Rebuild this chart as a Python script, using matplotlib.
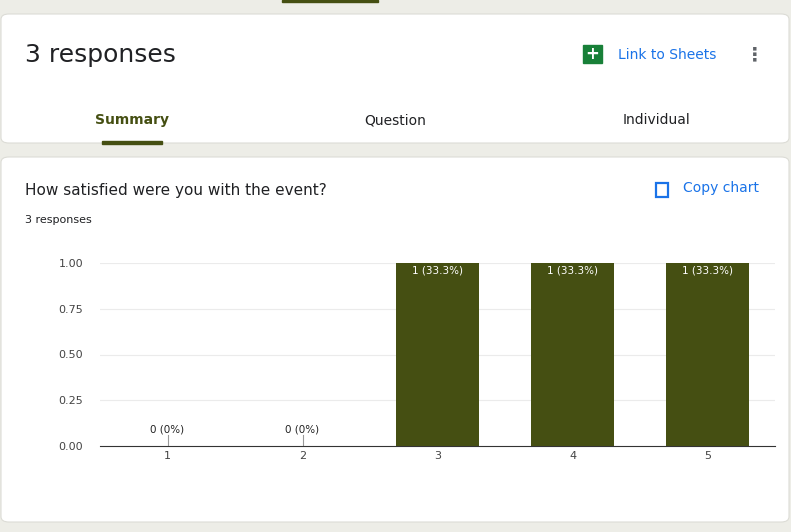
import matplotlib
matplotlib.use('Agg')
import matplotlib.pyplot as plt
from matplotlib.patches import FancyBboxPatch, Rectangle

categories = ['1', '2', '3', '4', '5']
counts = [0, 0, 1, 1, 1]
labels = ['0 (0%)', '0 (0%)', '1 (33.3%)', '1 (33.3%)', '1 (33.3%)']
yticks = [0.0, 0.25, 0.5, 0.75, 1.0]

W, H = 791, 532
GREEN = '#454f12'
BG = '#edede7'


def fx(x):
    return x / W


def fy(y):
    return 1 - y / H


fig = plt.figure(figsize=(W / 100, H / 100), dpi=100)
fig.patch.set_facecolor(BG)


def card(x0, y0, x1, y1):
    fig.patches.append(FancyBboxPatch((fx(x0), fy(y1)), fx(x1 - x0), (y1 - y0) / H,
                                      boxstyle='round,pad=0,rounding_size=0.01',
                                      transform=fig.transFigure, facecolor='white',
                                      edgecolor='#dcdcd6', linewidth=0.8))


card(1, 14, 789, 143)
card(1, 157, 789, 522)

# top accent and tab indicator
fig.patches.append(Rectangle((fx(282), fy(2)), fx(96), 2 / H, transform=fig.transFigure, color=GREEN))
fig.patches.append(Rectangle((fx(102), fy(144)), fx(60), 3 / H, transform=fig.transFigure, color=GREEN))

fig.text(fx(25), fy(55), '3 responses', fontsize=18, color='#202124', va='center')
fig.patches.append(Rectangle((fx(583), fy(63)), fx(19), 18 / H, transform=fig.transFigure, color='#188038'))
fig.text(fx(592.5), fy(54), '+', fontsize=12, color='white', ha='center', va='center', fontweight='bold')
fig.text(fx(618), fy(55), 'Link to Sheets', fontsize=10, color='#1a73e8', va='center')
fig.text(fx(755), fy(55), '\u22ee', fontsize=14, color='#5f6368', va='center', ha='center', fontweight='bold')
fig.text(fx(132), fy(120), 'Summary', fontsize=10, color=GREEN, ha='center', va='center', fontweight='semibold')
fig.text(fx(395), fy(120), 'Question', fontsize=10, color='#202124', ha='center', va='center')
fig.text(fx(657), fy(120), 'Individual', fontsize=10, color='#202124', ha='center', va='center')

fig.text(fx(25), fy(190), 'How satisfied were you with the event?', fontsize=11, color='#202124', va='center')
fig.text(fx(25), fy(220), '3 responses', fontsize=8, color='#202124', va='center')
fig.patches.append(Rectangle((fx(656), fy(197)), fx(12), 14 / H, transform=fig.transFigure,
                             facecolor='white', edgecolor='#1a73e8', linewidth=1.6))
fig.text(fx(683), fy(188), 'Copy chart', fontsize=10, color='#1a73e8', va='center')

ax = fig.add_axes([fx(100), fy(446), fx(675), (446 - 263) / H])
ax.set_zorder(5)
ax.patch.set_alpha(0)
x = list(range(1, len(categories) + 1))
ax.bar(x, counts, width=0.62, color=GREEN, zorder=3)
ax.set_xlim(0.5, len(categories) + 0.5)
ax.set_ylim(0, 1)
ax.set_xticks(x)
ax.set_xticklabels(categories)
ax.set_yticks(yticks)
ax.set_yticklabels(['%.2f' % v for v in yticks])
ax.tick_params(axis='both', length=0, labelsize=8, colors='#444444')
ax.tick_params(axis='y', pad=12)
for s in ['top', 'right', 'left']:
    ax.spines[s].set_visible(False)
ax.spines['bottom'].set_color('#333333')
for v in yticks[1:]:
    ax.axhline(v, color='#ebebeb', linewidth=0.8, zorder=1)
for xi, c, lab in zip(x, counts, labels):
    if c > 0:
        ax.text(xi, c - 0.015, lab, ha='center', va='top', color='white', fontsize=7.5)
    else:
        ax.plot([xi, xi], [0, 0.06], color='#999999', linewidth=0.8)
        ax.text(xi, 0.065, lab, ha='center', va='bottom', color='#222222', fontsize=7.5)

fig.savefig('out.png', dpi=100, facecolor=fig.get_facecolor())
